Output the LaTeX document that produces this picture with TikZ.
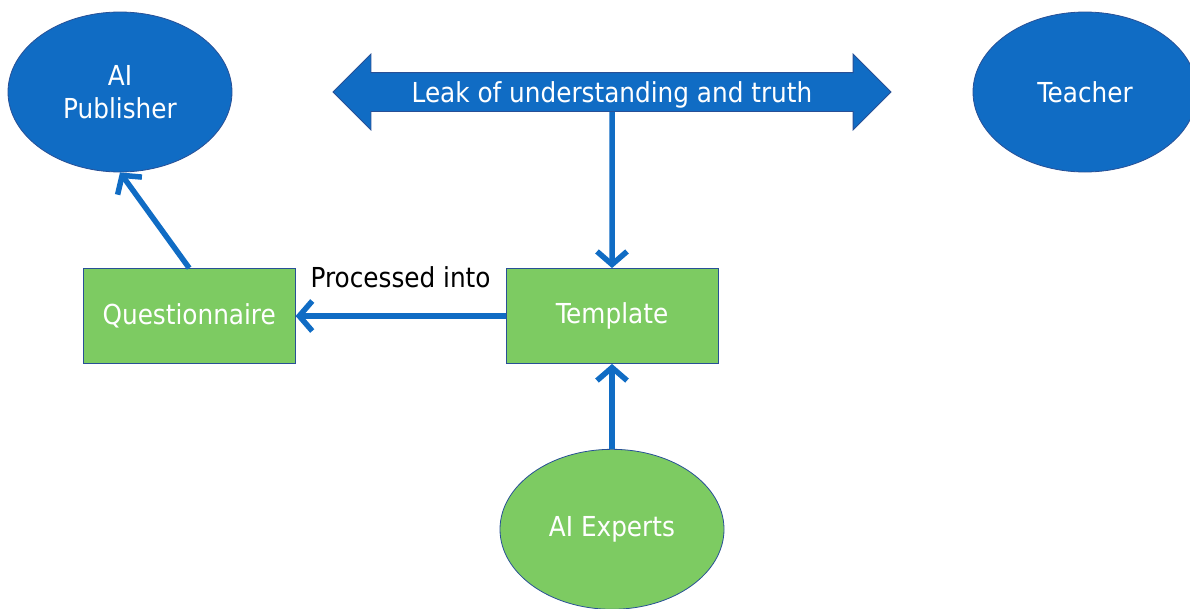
\documentclass[tikz,border=0pt]{standalone}
\usepackage{fontspec}
\setmainfont{DejaVu Sans Condensed}
\usetikzlibrary{shapes.geometric,shapes.arrows,arrows.meta,positioning}
\definecolor{nodeblue}{RGB}{16,108,196}
\definecolor{nodegreen}{RGB}{125,203,98}
\definecolor{rimblue}{RGB}{40,80,150}
\newcommand\diagfont{\fontsize{27.5}{33}\selectfont}
\begin{document}
\begin{tikzpicture}[x=1pt, y=-1pt]
            \tikzstyle{blob} = [ellipse, draw=rimblue, line width=0.8pt, fill=nodeblue, text=white, align=center, font=\diagfont, minimum width=224pt, minimum height=160pt, inner sep=0pt]
            \tikzstyle{greenblob} = [blob, fill=nodegreen]
            \tikzstyle{box} = [rectangle, draw=rimblue, line width=0.8pt, fill=nodegreen, text=white, font=\diagfont, minimum width=212pt, minimum height=95pt]
            \tikzstyle{bigarrow} = [double arrow, draw=rimblue, line width=0.8pt, fill=nodeblue, text=white, font=\diagfont, double arrow head extend=18.5pt, minimum height=558pt, inner xsep=4pt, inner ysep=2pt, text height=27pt, text depth=7pt]
            \tikzstyle{flow} = [draw=nodeblue, line width=5.5pt, -{Straight Barb[length=13pt, width=30pt]}]

            \useasboundingbox (0,0) rectangle (1190,608);

            % Nodes
            \node[box] (tmpl) at (612,316) {Template};
            \node[box] (quest) [left=210pt of tmpl] {Questionnaire};
            \node[greenblob] (experts) [below=85pt of tmpl] {AI Experts};
            \node[blob] (pub) at (120,92) {AI\\Publisher};
            \node[blob] (teacher) at (1085,92) {Teacher};
            \node[bigarrow] (leak) at (612,92) {Leak of understanding and truth};

            % Edges
            \path (leak) edge[flow] (tmpl);
            \path (tmpl) edge[flow] node[above=22pt, text=black, font=\diagfont] {Processed into} (quest);
            \path (quest.north) edge[flow] (pub.south);
            \path (experts) edge[flow] (tmpl);

\end{tikzpicture}
\end{document}
